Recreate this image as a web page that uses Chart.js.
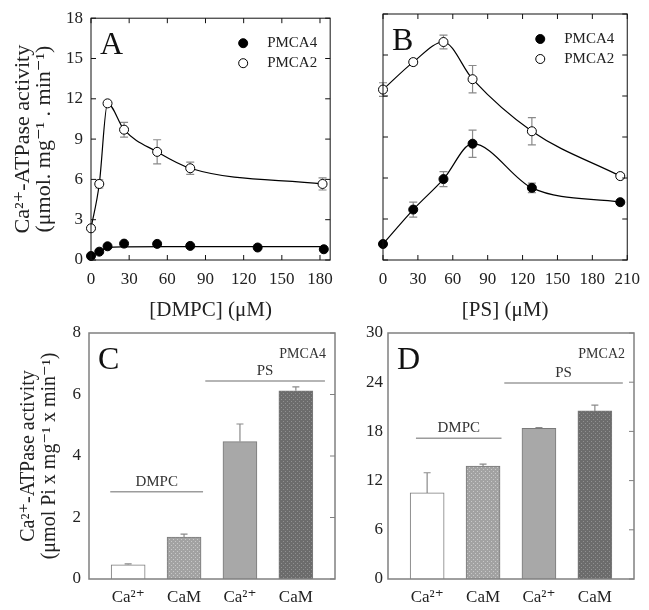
<!DOCTYPE html>
<html>
<head>
<meta charset="utf-8">
<title>PMCA activity</title>
<script src="https://cdn.jsdelivr.net/npm/chart.js@4.4.1/dist/chart.umd.min.js"></script>
<style>
  body { margin: 0; background: #fff; }
  #wrap { position: relative; width: 649px; height: 610px; overflow: hidden; }
  canvas { position: absolute; }
</style>
</head>
<body>
<div id="wrap">
  <canvas id="chartA" width="342" height="322" style="left:0;top:0"></canvas>
  <canvas id="chartB" width="307" height="322" style="left:342px;top:0"></canvas>
  <canvas id="chartC" width="340" height="320" style="left:0;top:290px"></canvas>
  <canvas id="chartD" width="309" height="320" style="left:340px;top:290px"></canvas>
</div>
<script>
const SERIF = "'Liberation Serif', 'DejaVu Serif', serif";

/* ---------------- DATA ---------------- */

// Panel A - DMPC titration
const dmpcTicks = [0, 30, 60, 90, 120, 150, 180];
const dmpcConc = [0, 6.5, 13, 26, 52, 78, 182];
const dmpcPmca2 = [2.36, 5.66, 11.66, 9.7, 8.05, 6.83, 5.66];
const dmpcPmca2Err = [0, 0.3, 0, 0.55, 0.9, 0.45, 0.45];
const dmpcConcPmca4 = [0, 6.5, 13, 26, 52, 78, 131, 183];
const dmpcPmca4 = [0.3, 0.62, 1.02, 1.22, 1.2, 1.05, 0.93, 0.8];
// fitted curve for PMCA4
const dmpcFitConc = [0, 6.5, 13, 26, 60, 120, 183];
const dmpcFitPmca4 = [0.3, 0.62, 0.92, 0.98, 1.0, 1.0, 1.0];

// Panel B - PS titration
const psTicks = [0, 30, 60, 90, 120, 150, 180, 210];
const psConc = [0, 26, 52, 77, 128, 204];
const psPmca2 = [12.47, 14.48, 15.95, 13.23, 9.42, 6.14];
const psPmca2Err = [0.5, 0.2, 0.5, 1.0, 1.0, 0.15];
const psPmca4 = [1.17, 3.69, 5.92, 8.51, 5.28, 4.23];
const psPmca4Err = [0, 0.55, 0.55, 1.0, 0.35, 0];

const activityTicks = [0, 3, 6, 9, 12, 15, 18];

// Panels C and D - bars
const barPos = [1, 2, 3, 4];
const barLabels = ["Ca²⁺", "CaM", "Ca²⁺", "CaM"];
const pmca4Ticks = [0, 2, 4, 6, 8];
const pmca4Bars = [0.46, 1.36, 4.47, 6.12];
const pmca4BarsErr = [0.03, 0.1, 0.57, 0.13];
const pmca2Ticks = [0, 6, 12, 18, 24, 30];
const pmca2Bars = [10.5, 13.78, 18.37, 20.5];
const pmca2BarsErr = [2.46, 0.22, 0.08, 0.7];

const xyPoints = (xs, ys) => xs.map((x, i) => ({ x, y: ys[i] }));
const fixedTicks = (values) => (s) => { s.ticks = values.map(value => ({ value })); };

Chart.defaults.font.family = SERIF;
Chart.defaults.color = "#222";

/* ---------------- DECOR PLUGIN ---------------- */

const panelDecor = {
    id: "panelDecor",
    beforeDatasetsDraw(chart) {
        const ctx = chart.ctx;
        const yScale = chart.scales.y;
        chart.data.datasets.forEach((ds, di) => {
            if (!ds.errors) return;
            const meta = chart.getDatasetMeta(di);
            const cap = ds.capHalf || 4;
            ctx.save();
            ctx.strokeStyle = "#8a8a8a";
            ctx.lineWidth = 1.2;
            meta.data.forEach((el, i) => {
                const err = ds.errors[i];
                if (!err) return;
                const v = ds.data[i].y;
                const top = yScale.getPixelForValue(v + err);
                const bottom = yScale.getPixelForValue(ds.oneSided ? v : v - err);
                ctx.beginPath();
                ctx.moveTo(el.x, top);
                ctx.lineTo(el.x, bottom);
                ctx.moveTo(el.x - cap, top);
                ctx.lineTo(el.x + cap, top);
                if (!ds.oneSided) {
                    ctx.moveTo(el.x - cap, bottom);
                    ctx.lineTo(el.x + cap, bottom);
                }
                ctx.stroke();
            });
            ctx.restore();
        });
    },
    afterDraw(chart, args, opts) {
        const { ctx, chartArea: a, scales } = chart;
        ctx.save();

        // frame
        ctx.strokeStyle = opts.frameColor;
        ctx.lineWidth = opts.frameWidth;
        ctx.strokeRect(a.left, a.top, a.right - a.left, a.bottom - a.top);

        // inward tick marks
        ctx.lineWidth = 1;
        ctx.beginPath();
        (opts.tickSides || []).forEach(side => {
            const horiz = side === "top" || side === "bottom";
            const scale = horiz ? scales.x : scales.y;
            scale.ticks.forEach(t => {
                const p = scale.getPixelForValue(t.value);
                if (side === "bottom") { ctx.moveTo(p, a.bottom); ctx.lineTo(p, a.bottom - 5); }
                if (side === "top") { ctx.moveTo(p, a.top); ctx.lineTo(p, a.top + 5); }
                if (side === "left") { ctx.moveTo(a.left, p); ctx.lineTo(a.left + 5, p); }
                if (side === "right") { ctx.moveTo(a.right, p); ctx.lineTo(a.right - 5, p); }
            });
        });
        ctx.stroke();

        // panel letter
        ctx.fillStyle = "#111";
        ctx.font = `32px ${SERIF}`;
        ctx.textAlign = "left";
        ctx.textBaseline = "alphabetic";
        ctx.fillText(opts.letter, a.left + 9, a.top + 36);

        // legend
        if (opts.legend) {
            let row = 0;
            ctx.font = `15px ${SERIF}`;
            ctx.textBaseline = "middle";
            chart.data.datasets.forEach(ds => {
                if (!ds.inLegend) return;
                const y = a.top + 25 + row * 20;
                const x = a.right - 87;
                ctx.beginPath();
                ctx.arc(x, y, 4.5, 0, Math.PI * 2);
                ctx.fillStyle = ds.pointBackgroundColor;
                ctx.fill();
                ctx.strokeStyle = "#000";
                ctx.lineWidth = 1;
                ctx.stroke();
                ctx.fillStyle = "#222";
                ctx.fillText(ds.label, a.right - 63, y);
                row++;
            });
        }

        // group lines (DMPC / PS)
        (opts.groups || []).forEach(g => {
            const x1 = scales.x.getPixelForValue(g.from);
            const x2 = scales.x.getPixelForValue(g.to);
            const y = scales.y.getPixelForValue(g.y);
            ctx.strokeStyle = "#9c9c9c";
            ctx.lineWidth = 1.5;
            ctx.beginPath();
            ctx.moveTo(x1, y);
            ctx.lineTo(x2, y);
            ctx.stroke();
            ctx.fillStyle = "#333";
            ctx.font = `15px ${SERIF}`;
            ctx.textAlign = "center";
            ctx.textBaseline = "alphabetic";
            ctx.fillText(g.label, (x1 + x2) / 2, y - 6);
        });

        // note
        if (opts.note) {
            ctx.fillStyle = "#333";
            ctx.font = `14px ${SERIF}`;
            ctx.textAlign = "right";
            ctx.textBaseline = "alphabetic";
            ctx.fillText(opts.note, a.right - 9, a.top + 25);
        }
        ctx.restore();
    }
};

/* ---------------- HELPERS ---------------- */

const hiddenGrid = { display: false, drawTicks: false };

const makeDots = (canvasId, base, dot) => {
    const c = document.createElement("canvas");
    c.width = 4;
    c.height = 4;
    const g = c.getContext("2d");
    g.fillStyle = base;
    g.fillRect(0, 0, 4, 4);
    g.fillStyle = dot;
    g.fillRect(1, 1, 1, 1);
    g.fillRect(3, 3, 1, 1);
    return document.getElementById(canvasId).getContext("2d").createPattern(c, "repeat");
};

const pointSet = (label, xs, ys, errs, filled, line) => ({
    label,
    data: xyPoints(xs, ys),
    errors: errs,
    inLegend: true,
    showLine: line,
    cubicInterpolationMode: "monotone",
    borderColor: "#000",
    borderWidth: 1.2,
    pointRadius: 4.5,
    pointBackgroundColor: filled ? "#000" : "#fff",
    pointBorderColor: "#000",
    pointBorderWidth: 1,
    clip: false
});

/* ---------------- PANEL A ---------------- */

new Chart(document.getElementById("chartA"), {
    type: "scatter",
    data: {
        datasets: [
            pointSet("PMCA4", dmpcConcPmca4, dmpcPmca4, null, true, false),
            pointSet("PMCA2", dmpcConc, dmpcPmca2, dmpcPmca2Err, false, true),
            {
                label: "fit",
                data: xyPoints(dmpcFitConc, dmpcFitPmca4),
                showLine: true,
                cubicInterpolationMode: "monotone",
                borderColor: "#000",
                borderWidth: 1.2,
                pointRadius: 0,
                clip: false
            }
        ]
    },
    options: {
        responsive: false,
        animation: false,
        layout: { padding: { left: 0, top: 14, right: 6, bottom: 0 } },
        plugins: {
            legend: { display: false },
            tooltip: { enabled: false },
            panelDecor: {
                letter: "A", legend: true, frameColor: "#111", frameWidth: 1,
                tickSides: ["top", "bottom", "left", "right"]
            }
        },
        scales: {
            x: {
                type: "linear", min: 0, max: 188,
                grid: hiddenGrid, border: { display: false },
                afterBuildTicks: fixedTicks(dmpcTicks),
                ticks: { padding: 9, maxRotation: 0, font: { size: 17 } },
                title: { display: true, text: "[DMPC] (μM)", font: { size: 21, lineHeight: 1 }, padding: { top: 0, bottom: 1 } },
                afterFit: s => { s.height = 62; }
            },
            y: {
                min: 0, max: 18,
                grid: hiddenGrid, border: { display: false },
                afterBuildTicks: fixedTicks(activityTicks),
                ticks: { padding: 8, font: { size: 17 } },
                title: {
                    display: true,
                    text: ["Ca²⁺-ATPase activity", "(μmol. mg⁻¹ . min⁻¹)"],
                    font: { size: 22, lineHeight: 0.96 },
                    padding: { top: 13, bottom: 0 }
                },
                afterFit: s => { s.width = 91; }
            }
        }
    },
    plugins: [panelDecor]
});

/* ---------------- PANEL B ---------------- */

new Chart(document.getElementById("chartB"), {
    type: "scatter",
    data: {
        datasets: [
            pointSet("PMCA4", psConc, psPmca4, psPmca4Err, true, true),
            pointSet("PMCA2", psConc, psPmca2, psPmca2Err, false, true)
        ]
    },
    options: {
        responsive: false,
        animation: false,
        layout: { padding: { left: 0, top: 14, right: 21, bottom: 0 } },
        plugins: {
            legend: { display: false },
            tooltip: { enabled: false },
            panelDecor: {
                letter: "B", legend: true, frameColor: "#111", frameWidth: 1,
                tickSides: ["top", "bottom", "left", "right"]
            }
        },
        scales: {
            x: {
                type: "linear", min: 0, max: 210,
                grid: hiddenGrid, border: { display: false },
                afterBuildTicks: fixedTicks(psTicks),
                ticks: { padding: 9, maxRotation: 0, font: { size: 17 } },
                title: { display: true, text: "[PS] (μM)", font: { size: 21, lineHeight: 1 }, padding: { top: 0, bottom: 1 } },
                afterFit: s => { s.height = 62; }
            },
            y: {
                min: 0, max: 18,
                grid: hiddenGrid, border: { display: false },
                afterBuildTicks: fixedTicks(activityTicks),
                ticks: { display: false },
                afterFit: s => { s.width = 41; }
            }
        }
    },
    plugins: [panelDecor]
});

/* ---------------- PANELS C / D ---------------- */

const barOptions = (letter, note, yMax, yTicks, yWidth, yTitle, groups, padRight) => ({
    responsive: false,
    animation: false,
    layout: { padding: { left: 0, top: 43, right: padRight, bottom: 0 } },
    plugins: {
        legend: { display: false },
        tooltip: { enabled: false },
        panelDecor: {
            letter, note, groups, frameColor: "#808080", frameWidth: 1.5,
            tickSides: ["right"]
        }
    },
    scales: {
        x: {
            type: "linear", min: 0.3, max: 4.7, offset: false,
            grid: { ...hiddenGrid, offset: false }, border: { display: false },
            afterBuildTicks: fixedTicks(barPos),
            ticks: { padding: 8, maxRotation: 0, font: { size: 17 }, callback: (v, i) => barLabels[i] },
            afterFit: s => { s.height = 31; }
        },
        y: {
            min: 0, max: yMax,
            grid: hiddenGrid, border: { display: false },
            afterBuildTicks: fixedTicks(yTicks),
            ticks: { padding: yTitle ? 8 : 5, font: { size: 17 } },
            title: yTitle ? {
                display: true,
                text: yTitle,
                font: { size: 20, lineHeight: 1.05 },
                padding: { top: 18, bottom: 0 }
            } : { display: false },
            afterFit: s => { s.width = yWidth; }
        }
    }
});

const barSet = (canvasId, vals, errs) => ({
    label: "activity",
    data: xyPoints(barPos, vals),
    errors: errs,
    oneSided: true,
    capHalf: 3.5,
    backgroundColor: [
        "#ffffff",
        makeDots(canvasId, "#a2a2a2", "#c8c8c8"),
        "#a8a8a8",
        makeDots(canvasId, "#6c6c6c", "#909090")
    ],
    borderColor: "#7a7a7a",
    borderWidth: 1,
    barThickness: 34
});

new Chart(document.getElementById("chartC"), {
    type: "bar",
    data: { datasets: [barSet("chartC", pmca4Bars, pmca4BarsErr)] },
    options: barOptions("C", "PMCA4", 8, pmca4Ticks, 89,
        ["Ca²⁺-ATPase activity", "(μmol Pi x mg⁻¹ x min⁻¹)"],
        [
            { label: "DMPC", from: 0.68, to: 2.34, y: 2.84 },
            { label: "PS", from: 2.38, to: 4.52, y: 6.44 }
        ], 5),
    plugins: [panelDecor]
});

new Chart(document.getElementById("chartD"), {
    type: "bar",
    data: { datasets: [barSet("chartD", pmca2Bars, pmca2BarsErr)] },
    options: barOptions("D", "PMCA2", 30, pmca2Ticks, 48, null,
        [
            { label: "DMPC", from: 0.8, to: 2.33, y: 17.15 },
            { label: "PS", from: 2.38, to: 4.5, y: 23.9 }
        ], 15),
    plugins: [panelDecor]
});
</script>
</body>
</html>
